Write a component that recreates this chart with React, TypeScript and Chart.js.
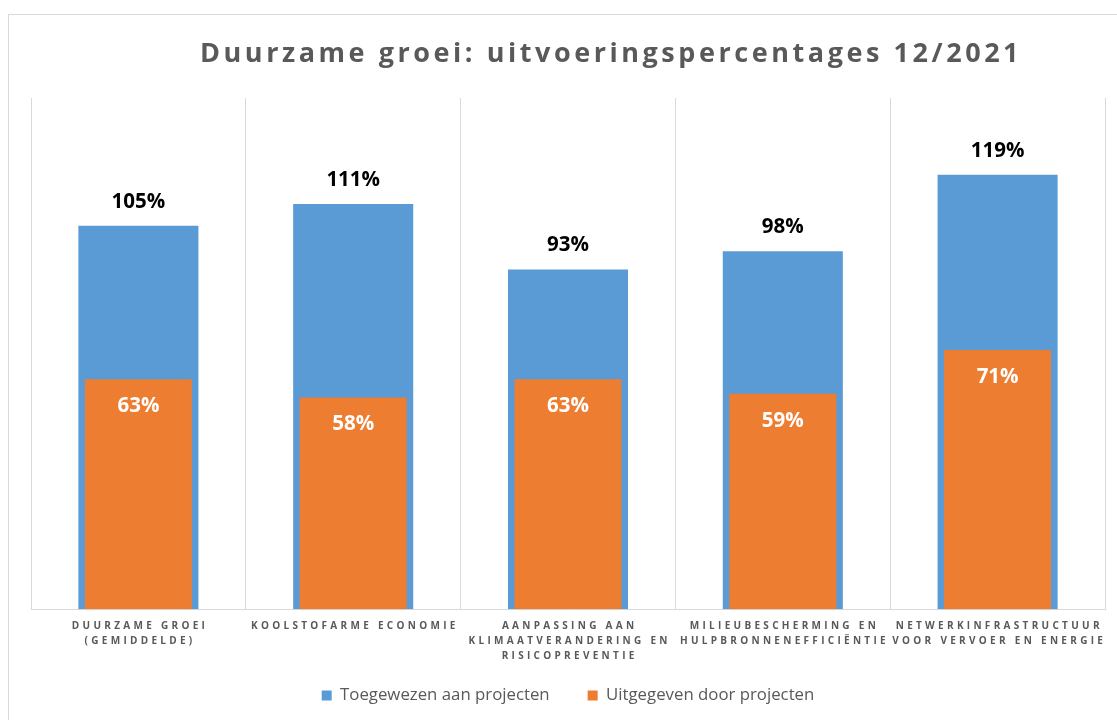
import React, { useEffect, useRef } from "react";
import { Chart, registerables } from "chart.js";

Chart.register(...registerables);

const TITLE = "Duurzame groei: uitvoeringspercentages 12/2021";
const CATEGORIES: string[][] = [
  ["DUURZAME GROEI", "(GEMIDDELDE)"],
  ["KOOLSTOFARME ECONOMIE"],
  ["AANPASSING AAN", "KLIMAATVERANDERING EN", "RISICOPREVENTIE"],
  ["MILIEUBESCHERMING EN", "HULPBRONNENEFFICIËNTIE"],
  ["NETWERKINFRASTRUCTUUR", "VOOR VERVOER EN ENERGIE"],
];
const SERIES_NAMES = ["Toegewezen aan projecten", "Uitgegeven door projecten"];
const ALLOCATED = [105, 111, 93, 98, 119];
const SPENT = [63, 58, 63, 59, 71];
const Y_MIN = 0;
const Y_MAX = 140;

const BLUE = "#5B9BD5";
const ORANGE = "#ED7D31";
const GREY = "#595959";
const GRID = "#D9D9D9";
const FONT = '"Open Sans", "DejaVu Sans", sans-serif';

const textPlugin = {
  id: "customText",
  afterDraw(chart: any) {
    const ctx: CanvasRenderingContext2D = chart.ctx;
    ctx.save();
    // Title
    ctx.font = `bold 27px ${FONT}`;
    (ctx as any).letterSpacing = "3.55px";
    ctx.fillStyle = GREY;
    ctx.textAlign = "left";
    ctx.textBaseline = "alphabetic";
    ctx.fillText(TITLE, 200, 62);

    // Category labels
    const xs = chart.scales.x;
    const ls = 3.3;
    ctx.font = `bold 10px ${FONT}`;
    (ctx as any).letterSpacing = `${ls}px`;
    ctx.textAlign = "center";
    CATEGORIES.forEach((lines, i) => {
      const cx = xs.getPixelForValue(i);
      lines.forEach((line, j) => {
        ctx.fillText(line, cx + ls / 2, xs.top + 20 + j * 15);
      });
    });

    // Data labels
    (ctx as any).letterSpacing = "0px";
    ctx.font = `bold 20.5px ${FONT}`;
    ctx.textAlign = "center";
    ctx.textBaseline = "middle";
    chart.data.datasets.forEach((ds: any, di: number) => {
      const meta = chart.getDatasetMeta(di);
      meta.data.forEach((bar: any, i: number) => {
        const v = ds.data[i];
        if (di === 0) {
          ctx.fillStyle = "#000000";
          ctx.fillText(`${v}%`, bar.x, bar.y - 24);
        } else {
          ctx.fillStyle = "#FFFFFF";
          ctx.fillText(`${v}%`, bar.x, bar.y + 27);
        }
      });
    });
    ctx.restore();
  },
};

export default function App() {
  const ref = useRef<HTMLCanvasElement | null>(null);

  useEffect(() => {
    if (!ref.current) return;
    const chart = new Chart(ref.current, {
      type: "bar",
      data: {
        labels: CATEGORIES.map((l) => l.join(" ")),
        datasets: [
          {
            label: SERIES_NAMES[0],
            data: ALLOCATED,
            backgroundColor: BLUE,
            borderWidth: 0,
            barPercentage: 0.559,
            categoryPercentage: 1,
            grouped: false,
            order: 2,
          },
          {
            label: SERIES_NAMES[1],
            data: SPENT,
            backgroundColor: ORANGE,
            borderWidth: 0,
            barPercentage: 0.498,
            categoryPercentage: 1,
            grouped: false,
            order: 1,
          },
        ],
      },
      options: {
        responsive: false,
        animation: false,
        layout: { padding: { top: 98, left: 31, right: 12, bottom: 6 } },
        plugins: {
          title: { display: false },
          tooltip: { enabled: false },
          legend: {
            position: "bottom",
            labels: {
              boxWidth: 10,
              boxHeight: 10,
              padding: 38,
              color: GREY,
              font: { family: FONT, size: 16.8 },
              sort: (a: any, b: any) => a.datasetIndex - b.datasetIndex,
            },
          },
        },
        scales: {
          x: {
            grid: { display: true, color: GRID, drawTicks: false, offset: true },
            border: { display: true, color: GRID },
            ticks: { display: false },
            afterFit: (s: any) => {
              s.height = 40;
            },
          },
          y: {
            display: false,
            min: Y_MIN,
            max: Y_MAX,
          },
        },
      },
      plugins: [textPlugin],
    });
    return () => chart.destroy();
  }, []);

  return (
    <div style={{ position: "fixed", left: 0, top: 0, width: 1117, height: 720, background: "#fff", overflow: "hidden" }}>
      <div
        style={{
          position: "absolute",
          left: 8,
          top: 14,
          width: 1200,
          height: 800,
          border: "1px solid #D9D9D9",
        }}
      />
      <canvas ref={ref} width={1117} height={720} style={{ position: "absolute", left: 0, top: 0, display: "block" }} />
    </div>
  );
}
